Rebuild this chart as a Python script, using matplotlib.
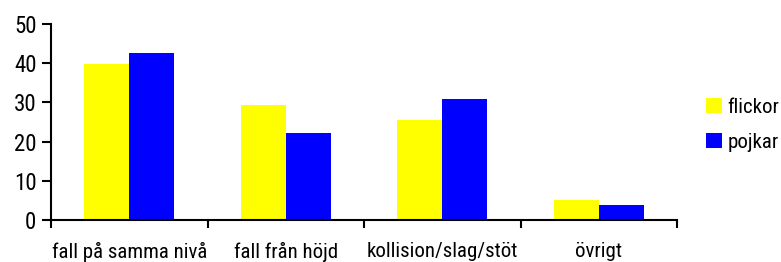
import matplotlib
matplotlib.use("Agg")
import matplotlib.pyplot as plt
from matplotlib.patches import Patch
import numpy as np

categories = ["fall på samma nivå", "fall från höjd", "kollision/slag/stöt", "övrigt"]
flickor = [39.9, 29.3, 25.6, 5.1]
pojkar = [42.6, 22.2, 30.9, 3.8]
series_names = ["flickor", "pojkar"]
colors = ["#FFFF00", "#0000FF"]
yticks = [0, 10, 20, 30, 40, 50]

plt.rcParams['font.family'] = ['Roboto Condensed', 'Archivo Narrow', 'PT Sans Narrow',
                               'Barlow Condensed', 'DejaVu Sans']

W, H = 781, 262
fig = plt.figure(figsize=(W / 100, H / 100), dpi=100)
ax = fig.add_axes([51 / W, 42 / H, 626 / W, 196 / H])

x = np.arange(len(categories)) + 0.5
bw = 0.2875
ax.bar(x - bw / 2, flickor, bw, color=colors[0], linewidth=0)
ax.bar(x + bw / 2, pojkar, bw, color=colors[1], linewidth=0)

ax.set_xlim(0, len(categories))
ax.set_ylim(0, 50)
ax.set_yticks(yticks)
ax.set_yticklabels([str(t) for t in yticks], fontsize=16.5)
ax.set_xticks(x)
ax.set_xticklabels(categories, fontsize=15)
ax.set_xticks(np.arange(len(categories) + 1), minor=True)
ax.tick_params(axis='x', which='major', length=0, pad=16)
ax.tick_params(axis='x', which='minor', length=6, width=1.5, direction='out')
ax.tick_params(axis='y', length=6.5, width=1.5, direction='out', pad=4)

for s in ['top', 'right']:
    ax.spines[s].set_visible(False)
for s in ['left', 'bottom']:
    ax.spines[s].set_linewidth(1.5)

handles = [Patch(facecolor=c, edgecolor='none') for c in colors]
fig.legend(handles, series_names, loc='upper left', bbox_to_anchor=(706 / W, 1 - 98 / H),
           frameon=False, fontsize=15, handlelength=0.75, handleheight=0.75,
           handletextpad=0.28, labelspacing=0.75, borderpad=0, borderaxespad=0)

fig.savefig("out.png", dpi=100)
